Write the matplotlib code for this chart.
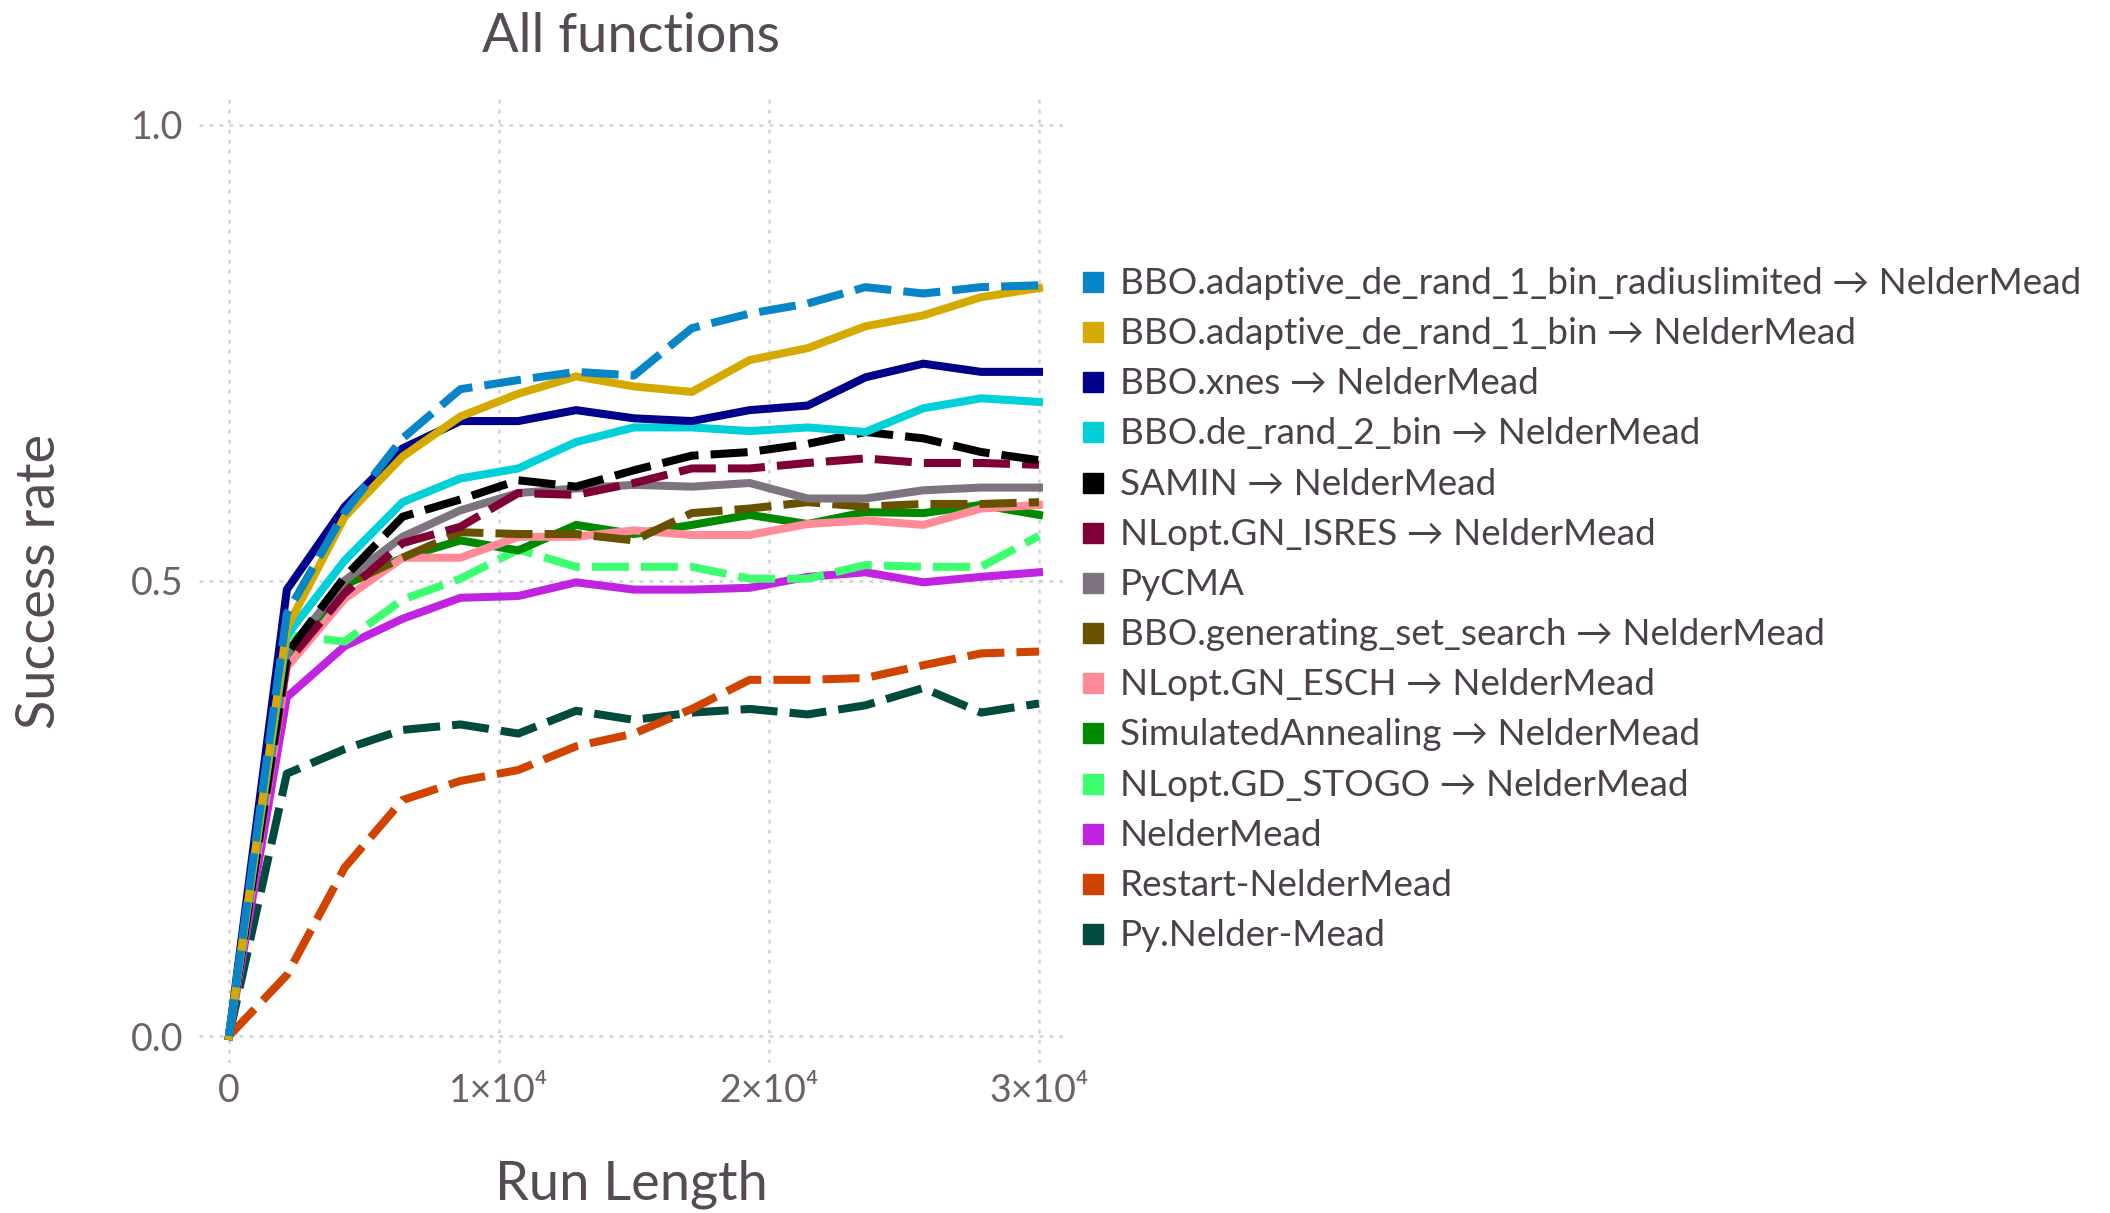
import matplotlib.pyplot as plt
from matplotlib.patches import Rectangle

plt.rcParams["font.family"] = ["Lato", "DejaVu Sans"]

# run length (x) for every curve
run_length = [0, 2143, 4286, 6429, 8571, 10714, 12857, 15000, 17143,
              19286, 21429, 23571, 25714, 27857, 30000]

labels = [
    "BBO.adaptive_de_rand_1_bin_radiuslimited → NelderMead",
    "BBO.adaptive_de_rand_1_bin → NelderMead",
    "BBO.xnes → NelderMead",
    "BBO.de_rand_2_bin → NelderMead",
    "SAMIN → NelderMead",
    "NLopt.GN_ISRES → NelderMead",
    "PyCMA",
    "BBO.generating_set_search → NelderMead",
    "NLopt.GN_ESCH → NelderMead",
    "SimulatedAnnealing → NelderMead",
    "NLopt.GD_STOGO → NelderMead",
    "NelderMead",
    "Restart-NelderMead",
    "Py.Nelder-Mead",
]

radiuslimited = [0, 0.464, 0.575, 0.656, 0.710, 0.720, 0.729, 0.725, 0.777, 0.793, 0.804, 0.822, 0.815, 0.822, 0.824]
de_rand_1_bin = [0, 0.448, 0.570, 0.636, 0.680, 0.705, 0.724, 0.713, 0.707, 0.742, 0.755, 0.779, 0.791, 0.811, 0.821]
xnes = [0, 0.490, 0.581, 0.645, 0.675, 0.675, 0.687, 0.678, 0.675, 0.687, 0.692, 0.723, 0.738, 0.729, 0.729]
de_rand_2_bin = [0, 0.440, 0.522, 0.586, 0.612, 0.623, 0.652, 0.668, 0.668, 0.664, 0.668, 0.663, 0.689, 0.700, 0.696]
samin = [0, 0.420, 0.504, 0.570, 0.589, 0.610, 0.603, 0.621, 0.637, 0.641, 0.650, 0.663, 0.656, 0.641, 0.632]
isres = [0, 0.410, 0.486, 0.541, 0.559, 0.596, 0.594, 0.607, 0.623, 0.623, 0.629, 0.634, 0.629, 0.629, 0.627]
pycma = [0, 0.420, 0.500, 0.548, 0.577, 0.596, 0.601, 0.605, 0.603, 0.607, 0.590, 0.590, 0.599, 0.602, 0.602]
gss = [0, 0.420, 0.495, 0.525, 0.553, 0.551, 0.551, 0.544, 0.574, 0.579, 0.586, 0.581, 0.584, 0.584, 0.586]
esch = [0, 0.405, 0.480, 0.525, 0.525, 0.548, 0.548, 0.555, 0.550, 0.550, 0.562, 0.566, 0.561, 0.579, 0.583]
annealing = [0, 0.415, 0.495, 0.525, 0.544, 0.533, 0.561, 0.551, 0.561, 0.572, 0.562, 0.575, 0.574, 0.583, 0.572]
stogo = [0, 0.440, 0.433, 0.479, 0.502, 0.534, 0.515, 0.515, 0.515, 0.502, 0.502, 0.517, 0.515, 0.515, 0.549]
neldermead = [0, 0.372, 0.428, 0.458, 0.481, 0.483, 0.498, 0.490, 0.490, 0.492, 0.504, 0.509, 0.498, 0.504, 0.509]
restart_nm = [0, 0.067, 0.185, 0.259, 0.280, 0.292, 0.318, 0.332, 0.359, 0.391, 0.391, 0.393, 0.407, 0.420, 0.422]
py_nm = [0, 0.288, 0.315, 0.336, 0.342, 0.332, 0.357, 0.347, 0.355, 0.359, 0.353, 0.363, 0.382, 0.355, 0.365]

series = [radiuslimited, de_rand_1_bin, xnes, de_rand_2_bin, samin, isres, pycma,
          gss, esch, annealing, stogo, neldermead, restart_nm, py_nm]
colors = ["#0885c6", "#d4aa00", "#00008b", "#00d0d8", "#000000", "#7f0036", "#7d7480",
          "#685200", "#ff8b99", "#008a00", "#3cff70", "#c024e0", "#d04400", "#004a3e"]
dashed = [True, False, False, False, True, True, False,
          True, False, False, True, False, True, True]

W, H = 2110, 1213
fig = plt.figure(figsize=(W / 100, H / 100), dpi=100)
ax = fig.add_axes([199 / W, 1 - 1063 / H, (1063 - 199) / W, (1063 - 98) / H])

# first series on top, as in the original
for i in reversed(range(len(series))):
    ls = (0, (4.6, 1.5)) if dashed[i] else "-"
    ax.plot(run_length, series[i], color=colors[i], lw=5.8, linestyle=ls,
            solid_joinstyle="miter", dash_capstyle="butt", zorder=3 + (len(series) - i) * 0.01)

ax.set_xlim(-1111, 30889)
ax.set_ylim(-0.0296, 1.0296)
ax.set_xticks([0, 10000, 20000, 30000])
ax.set_xticklabels(["0", "1×10⁴", "2×10⁴", "3×10⁴"])
ax.set_yticks([0, 0.5, 1.0])
ax.set_yticklabels(["0.0", "0.5", "1.0"])
ax.grid(True, color="#d0d0e0", linestyle=(0, (1.5, 2.5)), lw=1.8)
for s in ax.spines.values():
    s.set_visible(False)
ax.tick_params(length=0, labelsize=27, labelcolor="#6c606b")
ax.tick_params(axis="y", pad=11)
ax.tick_params(axis="x", pad=7)

fig.text(631 / W, 1 - 36 / H, "All functions", fontsize=39, color="#564a55",
         ha="center", va="center")
fig.text(631 / W, 1 - 1184 / H, "Run Length", fontsize=39, color="#564a55",
         ha="center", va="center")
fig.text(40 / W, 1 - 581 / H, "Success rate", fontsize=39, color="#564a55",
         ha="center", va="center", rotation=90)

# legend: coloured squares with labels
for i, (lab, col) in enumerate(zip(labels, colors)):
    yc = 282 + i * 50.15
    fig.patches.append(Rectangle((1083 / W, 1 - (yc + 10) / H), 20 / W, 20 / H,
                                 transform=fig.transFigure, color=col, figure=fig))
    fig.text(1120 / W, 1 - (yc + 12) / H, lab, fontsize=26.6, color="#4c404b",
             ha="left", va="baseline")

fig.savefig("out.png", dpi=100)
